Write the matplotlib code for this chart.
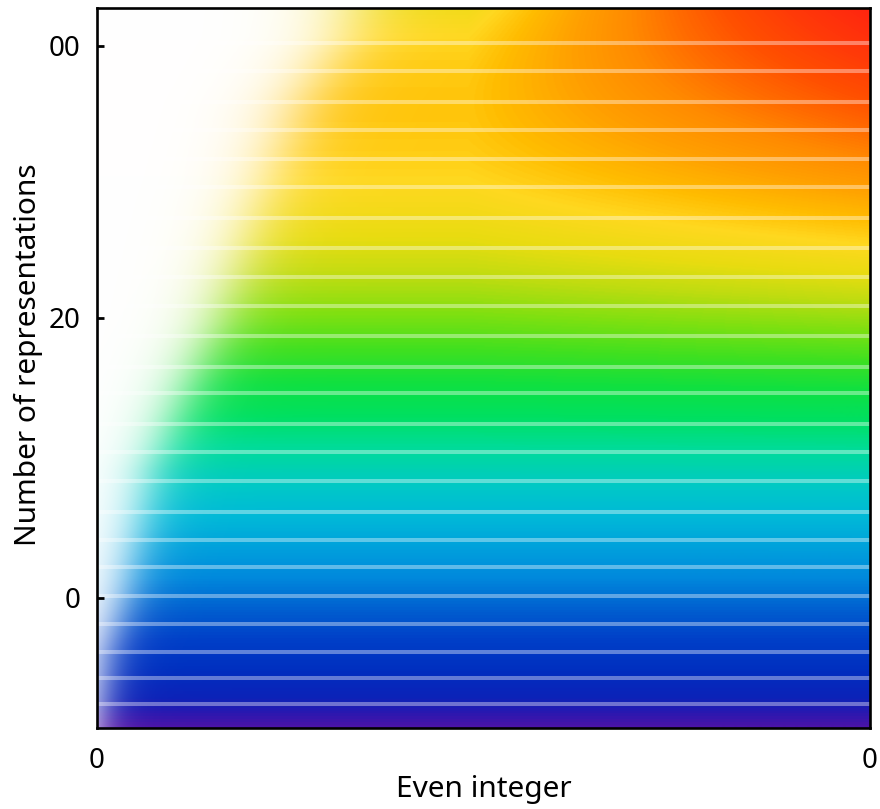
import numpy as np
import matplotlib
matplotlib.use("Agg")
import matplotlib.pyplot as plt
from matplotlib.colors import LinearSegmentedColormap

plt.rcParams["font.family"] = ["Noto Sans", "DejaVu Sans"]

# y-axis ticks and their printed labels
YTICKS = [0, 20, 39.4]
YTICK_LABELS = ["0", "20", "00"]
XTICKS = [0, 1]
XTICK_LABELS = ["0", "0"]
YLIM = (-9.3, 42.1)

# representation-count levels drawn as faint horizontal rules
LEVELS = [39.6, 37.6, 35.4, 33.4, 31.3, 29.3, 27.1, 25.0, 22.9, 20.8,
          18.7, 16.5, 14.6, 12.4, 10.4, 8.3, 6.1, 4.1, 2.2, 0.1,
          -1.9, -3.9, -5.7, -7.6]

# colour ramp from bottom (0) to top (1) of the panel
RAMP_POS = [0.000, 0.018, 0.039, 0.081, 0.122, 0.164, 0.206, 0.247,
            0.289, 0.331, 0.386, 0.428, 0.469, 0.511, 0.553, 0.594,
            0.629, 0.671, 0.706, 0.747, 0.789, 0.831, 0.872, 0.928, 1.000]
RAMP_COL = ["#4a14a8", "#2a18b0", "#0c22b8", "#0030c0", "#0040c8",
            "#0060d0", "#0088dc", "#00a0dc", "#00b8d8", "#00c8c8",
            "#00dc98", "#00e060", "#10e040", "#40e020", "#80e010",
            "#c0dc10", "#e8dc10", "#ffd820", "#ffbc00", "#ffa000",
            "#ff8a00", "#ff6a00", "#ff5000", "#ff3a08", "#ff2410"]

# left edge of the coloured region (fraction of width) vs height
EDGE_T = [0.0, 0.10, 0.18, 0.36, 0.56, 0.73, 0.87, 0.96, 1.00]
EDGE_X = [0.0, 0.012, 0.034, 0.070, 0.155, 0.210, 0.265, 0.320, 0.330]

cmap = LinearSegmentedColormap.from_list("ramp", list(zip(RAMP_POS, RAMP_COL)))

ny, nx = 720, 773
t = np.linspace(0, 1, ny)[:, None]
x = np.linspace(0, 1, nx)[None, :]
# upper rows drift toward red as the even integer grows
drift = 0.29 * (t / 0.96) ** 5 * np.clip((1 - x) / 0.52, 0, 1)
v = np.clip(t - drift, 0, 1)
rgb = cmap(v)[..., :3]

edge = np.interp(t, EDGE_T, EDGE_X)
soft = 0.015 + 0.020 * t
white = 1.0 / (1.0 + np.exp((x - edge) / soft))
rgb = rgb * (1 - white[..., None]) + white[..., None]

fig = plt.figure(figsize=(8.8, 8.09), dpi=100)
ax = fig.add_axes([0.110, 0.1001, 0.8786, 0.8900])

ax.imshow(rgb, extent=(0, 1, YLIM[0], YLIM[1]), origin="lower",
          aspect="auto", interpolation="bilinear", zorder=0)
ax.hlines(LEVELS, 0, 1, colors="white", alpha=0.38, lw=2.9, zorder=1)

ax.set_xlim(0, 1)
ax.set_ylim(*YLIM)
ax.set_yticks(YTICKS)
ax.set_yticklabels(YTICK_LABELS)
ax.set_xticks(XTICKS)
ax.set_xticklabels(XTICK_LABELS)
ax.tick_params(axis="y", direction="in", length=5, width=2, pad=12,
               labelsize=20)
ax.tick_params(axis="x", length=0, pad=14, labelsize=20)
for sp in ax.spines.values():
    sp.set_linewidth(1.9)
    sp.set_zorder(3)

ax.set_xlabel("Even integer", fontsize=21.5, labelpad=0)
ax.set_ylabel("Number of representations", fontsize=21.5)
ax.yaxis.set_label_coords(-0.069, 0.519)

fig.savefig("out.png", dpi=100)
